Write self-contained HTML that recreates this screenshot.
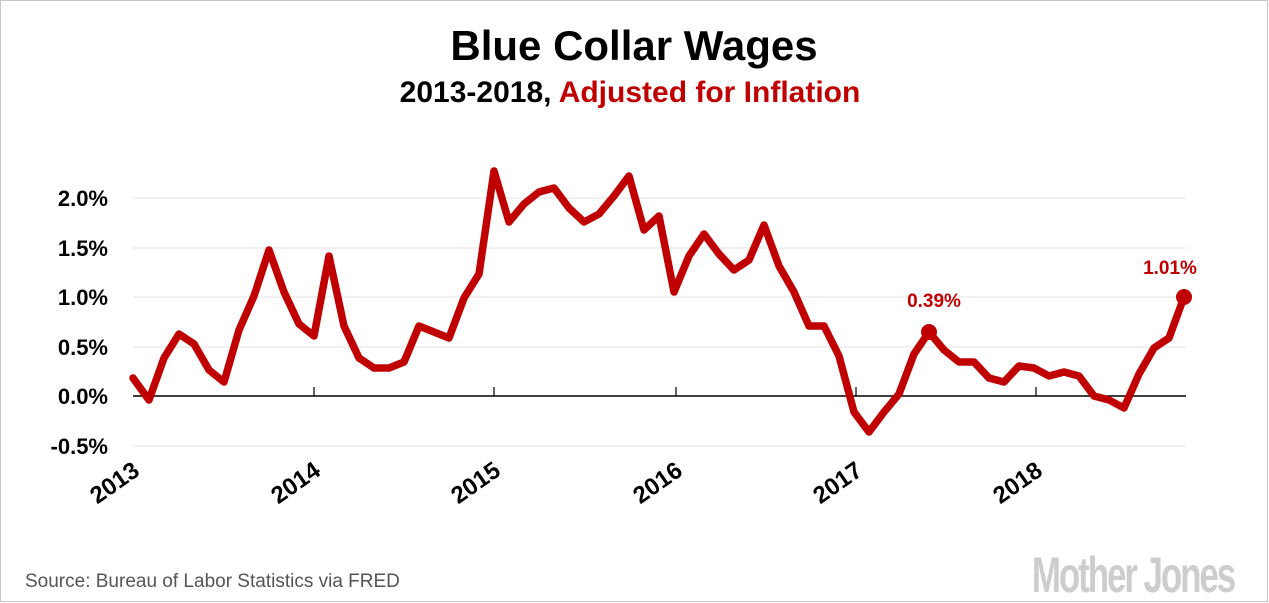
<!DOCTYPE html>
<html><head><meta charset="utf-8"><style>
body{margin:0;background:#fff}
svg{display:block}
</style></head><body>
<svg width="1269" height="603" viewBox="0 0 1269 603" xmlns="http://www.w3.org/2000/svg" font-family="Liberation Sans, sans-serif">
<rect x="0.5" y="0.5" width="1267" height="601" fill="#fff" stroke="#c8c8c8"/>
<text x="634" y="60" text-anchor="middle" font-size="42" font-weight="bold" fill="#000">Blue Collar Wages</text>
<text x="630" y="102" text-anchor="middle" font-size="30" font-weight="bold" fill="#000">2013-2018, <tspan fill="#c00000">Adjusted for Inflation</tspan></text>
<g stroke="#e3e3e3" stroke-width="1">
<line x1="133" x2="1186" y1="198" y2="198"/>
<line x1="133" x2="1186" y1="248" y2="248"/>
<line x1="133" x2="1186" y1="297" y2="297"/>
<line x1="133" x2="1186" y1="347" y2="347"/>
<line x1="133" x2="1186" y1="446" y2="446"/>
</g>
<line x1="133" x2="1186" y1="396" y2="396" stroke="#000" stroke-width="1.5"/>
<g stroke="#000" stroke-width="1.2">
<line x1="314" x2="314" y1="387" y2="396"/><line x1="494" x2="494" y1="387" y2="396"/>
<line x1="676" x2="676" y1="387" y2="396"/><line x1="856" x2="856" y1="387" y2="396"/>
<line x1="1036" x2="1036" y1="387" y2="396"/>
</g>
<g font-size="22" font-weight="bold" fill="#000" text-anchor="end">
<text x="108" y="206">2.0%</text><text x="108" y="256">1.5%</text><text x="108" y="305">1.0%</text>
<text x="108" y="355">0.5%</text><text x="108" y="404">0.0%</text><text x="108" y="454">-0.5%</text>
</g>
<g font-size="24" font-weight="bold" fill="#000" text-anchor="end">
<text transform="translate(141,474) rotate(-35)">2013</text>
<text transform="translate(322,474) rotate(-35)">2014</text>
<text transform="translate(502,474) rotate(-35)">2015</text>
<text transform="translate(684,474) rotate(-35)">2016</text>
<text transform="translate(864,474) rotate(-35)">2017</text>
<text transform="translate(1044,474) rotate(-35)">2018</text>
</g>
<polyline fill="none" stroke="#c00000" stroke-width="7.5" stroke-linejoin="round" stroke-linecap="round" points="133,378 149,400 164,358 179,334 194,344 209,370 224,382 239,330 254,296 269,250 284,292 299,324 314,336 329,256 344,326 359,358 374,368 389,368 404,362 419,326 434,332 449,338 464,298 479,274 494,171 509,222 524,204 539,192 554,188 569,208 584,222 599,214 614,196 629,176 644,230 659,216 674,292 689,256 704,234 719,254 734,270 749,260 764,225 779,266 794,292 809,326 824,326 839,356 854,412 869,432 884,412 899,394 914,354 929,332 944,350 959,362 974,362 989,378 1004,382 1019,366 1034,368 1049,376 1064,372 1079,376 1094,396 1109,400 1124,408 1139,374 1154,348 1169,338 1184,297"/>
<circle cx="929" cy="332" r="8" fill="#c00000"/>
<circle cx="1184" cy="297" r="8" fill="#c00000"/>
<text x="934" y="307" text-anchor="middle" font-size="19" font-weight="bold" fill="#c00000">0.39%</text>
<text x="1170" y="274" text-anchor="middle" font-size="19" font-weight="bold" fill="#c00000">1.01%</text>
<text x="25" y="587" font-size="19" fill="#555">Source: Bureau of Labor Statistics via FRED</text>
<text x="1133" y="592" text-anchor="middle" font-size="50" font-weight="bold" fill="#cdcdcd" letter-spacing="-3" transform="translate(1133,0) scale(0.7,1) translate(-1133,0)">Mother Jones</text>
</svg>
</body></html>
